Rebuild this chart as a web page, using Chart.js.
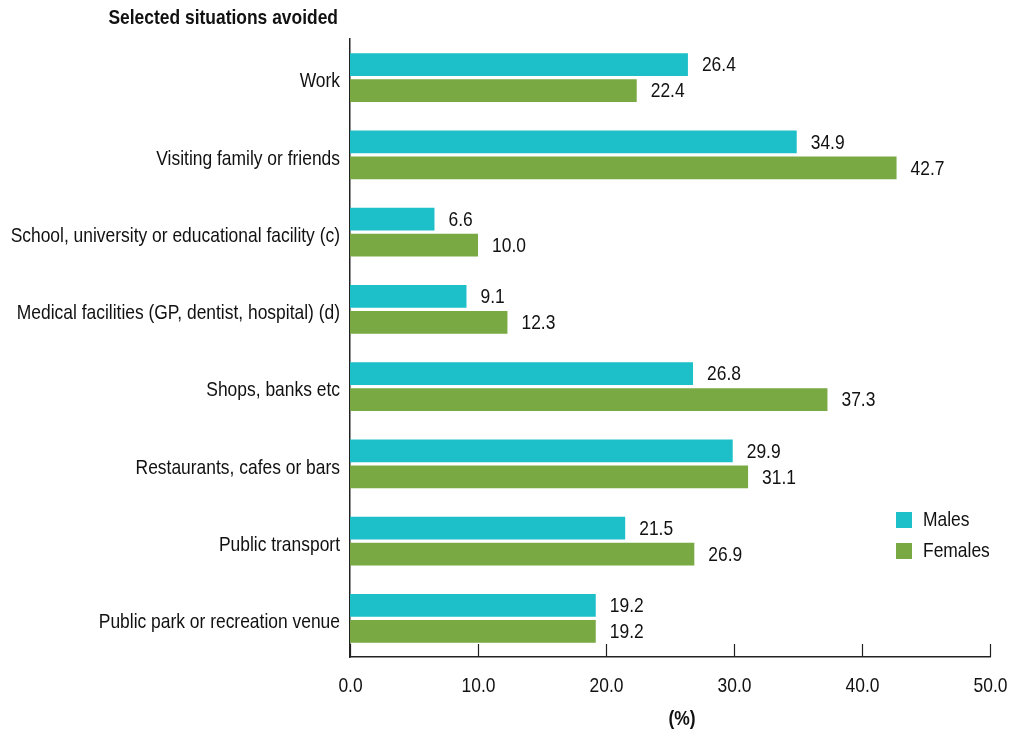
<!DOCTYPE html>
<html>
<head>
<meta charset="utf-8">
<script src="https://cdn.jsdelivr.net/npm/chart.js@4"></script>
<style>
  html, body { margin: 0; padding: 0; background: #fff; }
  #wrap { width: 1012px; height: 733px; }
</style>
</head>
<body>
<div id="wrap"><canvas id="situationsChart"></canvas></div>
<script>
const situations = [
  "Work",
  "Visiting family or friends",
  "School, university or educational facility (c)",
  "Medical facilities (GP, dentist, hospital) (d)",
  "Shops, banks etc",
  "Restaurants, cafes or bars",
  "Public transport",
  "Public park or recreation venue",
];
const males = [26.4, 34.9, 6.6, 9.1, 26.8, 29.9, 21.5, 19.2];
const females = [22.4, 42.7, 10.0, 12.3, 37.3, 31.1, 26.9, 19.2];
const xTicks = [0, 10, 20, 30, 40, 50];

const FONT = "'Liberation Sans', Arial, sans-serif";
const SQUEEZE = 0.83; // narrow lettering, like Arial Narrow
const MALE_COLOUR = "#1dbfc9";
const FEMALE_COLOUR = "#78a942";

function narrowText(ctx, text, x, y, align, font) {
  ctx.save();
  ctx.font = font;
  ctx.textAlign = align;
  ctx.textBaseline = "middle";
  ctx.translate(x, y);
  ctx.scale(SQUEEZE, 1);
  ctx.fillText(text, 0, 0);
  ctx.restore();
}

// labels, tick marks pointing into the plot, header, axis title, legend
const extras = {
  id: "extras",
  afterDatasetsDraw(chart) {
    const ctx = chart.ctx;
    const area = chart.chartArea;
    const x = chart.scales.x;
    const y = chart.scales.y;
    const regular = "21px " + FONT;
    const bold = "bold 21px " + FONT;
    ctx.save();
    ctx.fillStyle = "#111";

    // small upward ticks on the bottom axis, with their labels
    ctx.strokeStyle = "#222";
    ctx.lineWidth = 1.2;
    xTicks.forEach((v) => {
      const px = Math.round(x.getPixelForValue(v)) + 0.5;
      ctx.beginPath();
      ctx.moveTo(px, area.bottom);
      ctx.lineTo(px, area.bottom - 13);
      ctx.stroke();
      narrowText(ctx, v.toFixed(1), px, area.bottom + 29, "center", regular);
    });

    // category names
    situations.forEach((name, i) => {
      narrowText(ctx, name, area.left - 10, y.getPixelForValue(i) + 4, "right", regular);
    });

    // value at the end of every bar
    chart.data.datasets.forEach((ds, di) => {
      chart.getDatasetMeta(di).data.forEach((bar, i) => {
        narrowText(ctx, ds.data[i].toFixed(1), bar.x + 14, bar.y + 1, "left", regular);
      });
    });

    // header above the category labels and the axis title
    narrowText(ctx, "Selected situations avoided", 338, 18, "right", bold);
    narrowText(ctx, "(%)", 682, 719, "center", bold);

    // legend inside the plot
    chart.data.datasets.forEach((ds, di) => {
      const top = 512 + di * 31;
      ctx.fillStyle = ds.backgroundColor;
      ctx.fillRect(896, top, 16, 16);
      ctx.fillStyle = "#111";
      narrowText(ctx, ds.label, 923, top + 8, "left", regular);
    });
    ctx.restore();
  },
};

new Chart(document.getElementById("situationsChart"), {
  type: "bar",
  data: {
    labels: situations,
    datasets: [
      { label: "Males", data: males, backgroundColor: MALE_COLOUR },
      { label: "Females", data: females, backgroundColor: FEMALE_COLOUR },
    ],
  },
  options: {
    indexAxis: "y",
    responsive: true,
    maintainAspectRatio: false,
    animation: false,
    categoryPercentage: 0.673,
    barPercentage: 0.87,
    layout: { padding: { top: 39, right: 22, left: 0, bottom: 0 } },
    scales: {
      x: {
        min: 0,
        max: 50,
        afterBuildTicks(scale) {
          scale.ticks = xTicks.map((v) => ({ value: v }));
        },
        afterFit(scale) {
          scale.height = 76;
          scale.paddingRight = 0;
          scale.paddingLeft = 0;
        },
        grid: { display: false, drawTicks: false },
        border: { display: true, color: "#222", width: 1.5 },
        ticks: { display: false },
      },
      y: {
        afterFit(scale) {
          scale.width = 350;
        },
        grid: { display: false, drawTicks: false },
        border: { display: true, color: "#222", width: 1.5 },
        ticks: { display: false },
      },
    },
    plugins: {
      legend: { display: false },
      tooltip: { enabled: false },
    },
  },
  plugins: [extras],
});
</script>
</body>
</html>
